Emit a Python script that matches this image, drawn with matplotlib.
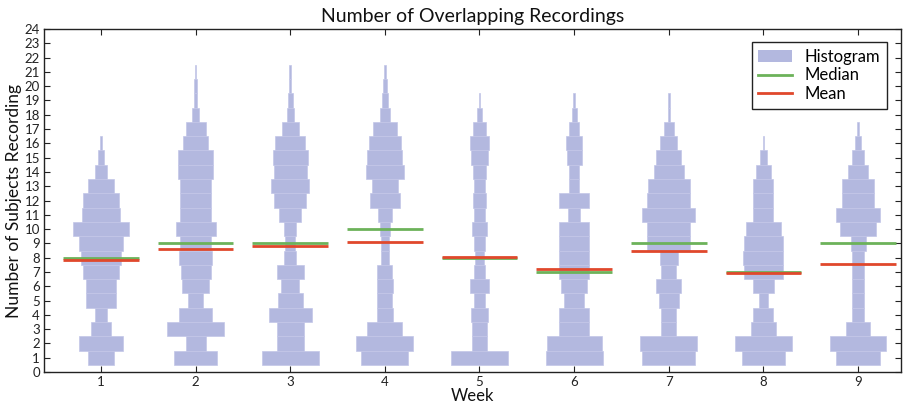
import matplotlib
matplotlib.use("Agg")
import matplotlib.pyplot as plt
from matplotlib.patches import Patch
from matplotlib.lines import Line2D

plt.rcParams['font.family'] = ['Lato', 'DejaVu Sans']

weeks = [1, 2, 3, 4, 5, 6, 7, 8, 9]

# Histogram counts per week, for subject counts 1, 2, 3, ...
counts = [
    [15, 26, 12, 7, 18, 18, 22, 24, 26, 34, 23, 22, 16, 7, 4, 1],
    [26, 12, 34, 20, 9, 16, 18, 20, 19, 24, 19, 19, 19, 21, 21, 15, 12, 4, 2, 2, 1],
    [34, 16, 16, 26, 15, 11, 16, 7, 6, 7, 13, 19, 23, 20, 21, 18, 10, 4, 3, 1, 1],
    [28, 34, 21, 10, 9, 10, 9, 5, 5, 6, 8, 18, 16, 23, 21, 19, 14, 6, 4, 2, 1],
    [34, 9, 9, 10, 7, 11, 7, 5, 6, 9, 7, 8, 6, 8, 10, 11, 8, 3, 1],
    [34, 33, 18, 18, 12, 16, 18, 18, 18, 18, 7, 18, 6, 6, 9, 10, 6, 3, 1],
    [32, 34, 9, 9, 12, 15, 9, 11, 26, 26, 32, 26, 25, 18, 15, 10, 6, 1, 1],
    [26, 34, 15, 12, 5, 13, 23, 24, 23, 21, 12, 12, 12, 9, 4, 1],
    [26, 34, 14, 7, 7, 7, 7, 7, 9, 21, 26, 19, 19, 12, 7, 4, 1],
]

medians = [8, 9, 9, 10, 8, 7, 9, 7, 9]
means = [7.82, 8.63, 8.85, 9.07, 8.05, 7.18, 8.48, 6.92, 7.57]

hist_color = '#b3b8df'
edge_color = '#c3c6e8'
median_color = '#6cb25a'
mean_color = '#e0482c'

max_width = 0.6
line_half = 0.4

fig = plt.figure(figsize=(9.04, 4.12), dpi=100)
ax = fig.add_axes([44.2 / 904, 1 - 372 / 412, (900.6 - 44.2) / 904, (372 - 29) / 412])

for wk, c in zip(weeks, counts):
    peak = max(c)
    levels = list(range(1, len(c) + 1))
    widths = [v / peak * max_width for v in c]
    lefts = [wk - w / 2 for w in widths]
    ax.barh(levels, widths, left=lefts, height=1.0, color=hist_color,
            edgecolor=edge_color, linewidth=0.5, zorder=1)

for wk, md in zip(weeks, medians):
    ax.hlines(md, wk - line_half, wk + line_half, color=median_color, lw=2.0, zorder=3)
for wk, mn in zip(weeks, means):
    ax.hlines(mn, wk - line_half, wk + line_half, color=mean_color, lw=2.0, zorder=4)

ax.set_xlim(0.4, 9.45)
ax.set_ylim(0, 24)
ax.set_xticks(weeks)
ax.set_yticks(range(0, 25))
ax.tick_params(direction='in', top=True, right=True, length=4, width=0.8,
               labelsize=9.5, colors='#222222', pad=3)
for s in ax.spines.values():
    s.set_linewidth(1.0)
    s.set_color('#222222')

ax.set_title('Number of Overlapping Recordings', fontsize=14, pad=5, color='#111111')
ax.set_xlabel('Week', fontsize=12, labelpad=0, color='#111111')
ax.set_ylabel('Number of Subjects Recording', fontsize=12.5, labelpad=2, color='#111111')

handles = [
    Patch(facecolor=hist_color, edgecolor='none'),
    Line2D([0], [0], color=median_color, lw=2),
    Line2D([0], [0], color=mean_color, lw=2),
]
leg = ax.legend(handles, ['Histogram', 'Median', 'Mean'], loc='upper right',
                fontsize=12, fancybox=False, framealpha=1, edgecolor='#222222',
                borderaxespad=0.8, handlelength=2.0, handletextpad=0.8,
                labelspacing=0.15, borderpad=0.4)
leg.get_frame().set_linewidth(1.0)

fig.savefig('out.png', dpi=100)
